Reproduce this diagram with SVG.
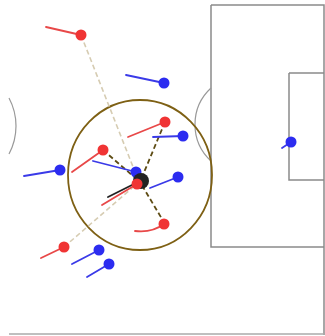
<svg xmlns="http://www.w3.org/2000/svg" width="325" height="336" viewBox="0 0 325 336">
<style>
.pitch{fill:none;stroke:#8a8a8a;stroke-width:1.5}
.arc{fill:none;stroke:#999;stroke-width:1.2}
.rt{stroke:#e84848;stroke-width:1.8;fill:none;stroke-linecap:round}
.bt{stroke:#3a3ae8;stroke-width:1.8;fill:none;stroke-linecap:round}
.rd{fill:#f03434}
.bd{fill:#2c2cf0}
.pass{stroke:#d6ccb2;stroke-width:1.6;stroke-dasharray:5,3;fill:none}
.opt{stroke:#5e4c14;stroke-width:1.8;stroke-dasharray:5,3;fill:none}
</style>
<rect width="325" height="336" fill="#ffffff"/>
<g id="pitch">
<path class="pitch" d="M211,5 H324 V335 M211,5 V247 H324 M289,73 V180 H324 M289,73 H324"/>
<path d="M9,334 H324" stroke="#aaaaaa" stroke-width="1.5" fill="none"/>
<path class="arc" d="M9,98 A59.5,59.5 0 0 1 9,154"/>
<path class="arc" d="M211,88 A49.6,49.6 0 0 0 211,161"/>
</g>
<ellipse id="zone" cx="140" cy="175" rx="72" ry="75" fill="none" stroke="#7e6014" stroke-width="1.8"/>
<g id="connectors">
<line class="pass" x1="81" y1="35" x2="139" y2="182"/>
<line class="pass" x1="64" y1="247" x2="139" y2="182"/>
<line class="opt" x1="103" y1="150" x2="140" y2="182"/>
<line class="opt" x1="165" y1="122" x2="140" y2="182"/>
<line class="opt" x1="165" y1="224" x2="140" y2="182"/>
</g>
<g id="r1"><line class="rt" x1="46" y1="27" x2="81" y2="35"/><circle class="rd" cx="81" cy="35" r="5.5"/></g>
<g id="b1"><line class="bt" x1="126" y1="75" x2="164" y2="83"/><circle class="bd" cx="164" cy="83" r="5.5"/></g>
<g id="r2"><line class="rt" x1="128" y1="137" x2="165" y2="122"/><circle class="rd" cx="165" cy="122" r="5.5"/></g>
<g id="b2"><line class="bt" x1="153" y1="137" x2="183" y2="136"/><circle class="bd" cx="183" cy="136" r="5.5"/></g>
<g id="r3"><line class="rt" x1="72" y1="172" x2="103" y2="150"/><circle class="rd" cx="103" cy="150" r="5.5"/></g>
<g id="b3"><line class="bt" x1="24" y1="176" x2="60" y2="170"/><circle class="bd" cx="60" cy="170" r="5.5"/></g>
<g id="b4"><line class="bt" x1="93" y1="161" x2="136" y2="172"/><circle class="bd" cx="136" cy="172" r="5.5"/></g>
<g id="ball"><circle cx="141" cy="181" r="8" fill="#222222"/><line x1="108" y1="197" x2="140" y2="181" stroke="#222" stroke-width="1.8" stroke-linecap="round"/></g>
<g id="r4"><line class="rt" x1="102" y1="205" x2="137" y2="184"/><circle class="rd" cx="137" cy="184" r="5.5"/></g>
<g id="b5"><line class="bt" x1="150" y1="188" x2="178" y2="177"/><circle class="bd" cx="178" cy="177" r="5.5"/></g>
<g id="r5"><path class="rt" d="M135,231 Q152,233 164,224"/><circle class="rd" cx="164" cy="224" r="5.5"/></g>
<g id="r6"><line class="rt" x1="41" y1="258" x2="64" y2="247"/><circle class="rd" cx="64" cy="247" r="5.5"/></g>
<g id="b6"><line class="bt" x1="72" y1="264" x2="99" y2="250"/><circle class="bd" cx="99" cy="250" r="5.5"/></g>
<g id="b7"><line class="bt" x1="87" y1="277" x2="109" y2="264"/><circle class="bd" cx="109" cy="264" r="5.5"/></g>
<g id="gk"><line class="bt" x1="282" y1="148" x2="291" y2="142"/><circle class="bd" cx="291" cy="142" r="5.5"/></g>
</svg>
